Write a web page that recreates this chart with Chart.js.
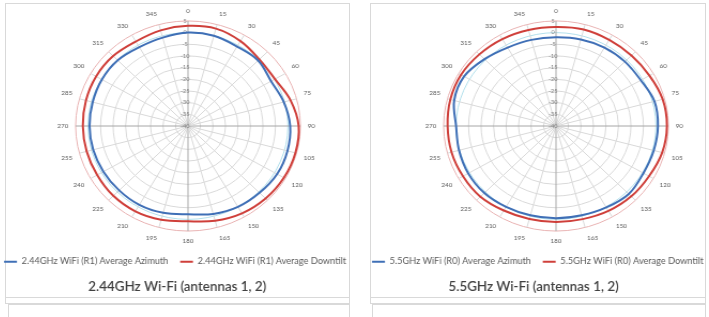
<!DOCTYPE html>
<html>
<head>
<meta charset="utf-8">
<script src="https://cdn.jsdelivr.net/npm/chart.js@4/dist/chart.umd.min.js"></script>
<style>
html,body{margin:0;padding:0;background:#fff;width:709px;height:317px;overflow:hidden;position:relative;font-family:Lato,"Open Sans",sans-serif;}
.box{position:absolute;border:1px solid #d9d9d9;box-sizing:border-box;}
.clip{position:absolute;overflow:hidden;}
canvas{position:absolute;top:0;}
</style>
</head>
<body>
<div class="box" style="left:5px;top:3px;width:345px;height:295px;"></div>
<div class="box" style="left:5px;top:297px;width:345px;height:7px;"></div>
<div class="box" style="left:8px;top:304px;width:342px;height:20px;"></div>
<div class="box" style="left:370px;top:3px;width:336px;height:295px;"></div>
<div class="box" style="left:370px;top:297px;width:336px;height:7px;"></div>
<div class="box" style="left:372px;top:304px;width:334px;height:20px;"></div>

<div class="clip" style="left:0;top:0;width:356px;height:300px;"><canvas id="c1" width="376" height="300" style="left:0;transform:scaleX(1.07);transform-origin:188px 128px;"></canvas></div>
<div class="clip" style="left:356px;top:0;width:353px;height:300px;"><canvas id="c2" width="372" height="300" style="left:14px;transform:scaleX(1.07);transform-origin:186px 128px;"></canvas></div>

<script>
// angle categories (degrees)
const angles = ['0','15','30','45','60','75','90','105','120','135','150','165','180','195','210','225','240','255','270','285','300','315','330','345'];
// radial tick values (dB)
const tickValues = [-40,-35,-30,-25,-20,-15,-10,-5,0,5];

// 2.44 GHz
const az24 = [0.0,0.0,-0.7,-0.3,-1.6,-0.3,0.9,1.2,1.2,0.5,0.0,-1.0,-2.2,-1.5,-1.0,-1.0,-0.9,-0.7,-0.6,-0.5,-0.2,-0.2,-1.0,-0.8];
const dt24 = [2.9,3.2,2.0,0.4,0.2,2.5,4.3,4.5,4.3,3.9,3.2,2.0,0.8,1.6,2.2,2.3,2.0,2.0,2.1,2.3,2.5,2.4,1.8,2.4];
// 5.5 GHz
const az55 = [-2.0,-1.6,-1.2,-1.0,-0.8,0.8,0.8,0.5,0.4,1.2,0.3,-0.4,-0.5,-0.4,0.0,0.6,0.6,0.2,0.0,2.2,2.5,0.5,-1.2,-1.8];
const dt55 = [2.4,2.8,2.6,2.7,3.2,4.2,4.4,4.0,3.0,2.6,2.0,1.3,1.1,1.2,1.8,2.8,3.0,3.3,3.4,3.8,3.9,3.4,3.0,2.6];

const seriesNames24 = ['2.44GHz WiFi (R1) Average Azimuth','2.44GHz WiFi (R1) Average Downtilt'];
const seriesNames55 = ['5.5GHz WiFi (R0) Average Azimuth','5.5GHz WiFi (R0) Average Downtilt'];
const titles = ['2.44GHz Wi-Fi (antennas 1, 2)','5.5GHz Wi-Fi (antennas 1, 2)'];

const BLUE = '#3f6fb6';
const RED = '#cf3f3a';

// shifts the legend / title boxes sideways (they are centred on the panel, not on the plot)
const shiftBoxes = {
  id: 'shiftBoxes',
  afterLayout(chart, args, opts) {
    if (chart.legend) { chart.legend.left += opts.legend; chart.legend.right += opts.legend; }
    if (chart.titleBlock) { chart.titleBlock.left += opts.title; chart.titleBlock.right += opts.title; }
  }
};

function makeChart(id, names, az, dt, title, shift) {
  return new Chart(document.getElementById(id), {
    type: 'radar',
    plugins: [shiftBoxes],
    data: {
      labels: angles,
      datasets: [
        {label: names[0], data: az, borderColor: BLUE, backgroundColor: BLUE, borderWidth: 2, fill: false, pointRadius: 0, tension: 0.35},
        {label: names[1], data: dt, borderColor: RED, backgroundColor: RED, borderWidth: 2, fill: false, pointRadius: 0, tension: 0.35}
      ]
    },
    options: {
      responsive: false,
      animation: false,
      layout: {padding: {top: 7, left: 0, right: 0, bottom: 0}},
      plugins: {
        shiftBoxes: shift,
        legend: {
          position: 'bottom',
          labels: {usePointStyle: true, pointStyle: 'line', pointStyleWidth: 12, boxHeight: 8, padding: 11,
                   color: '#595959', font: {family: 'Lato', size: 8.6}}
        },
        title: {
          display: true, text: title, position: 'bottom', color: '#404040',
          font: {family: 'Lato', size: 12.5, weight: '600'}, padding: {top: 3, bottom: 6}
        },
        tooltip: {enabled: false}
      },
      scales: {
        r: {
          min: tickValues[0], max: tickValues[tickValues.length - 1],
          afterBuildTicks: (s) => { s.ticks = tickValues.map(v => ({value: v})); },
          startAngle: 0,
          grid: {
            circular: true,
            color: (c) => c.tick && c.tick.value === 0 ? '#b3e0ec' : (c.tick && c.tick.value === 5 ? '#e9b3b3' : '#d9d9d9'),
            lineWidth: 1
          },
          angleLines: {
            color: (c) => (c.index % 6 === 0) ? '#a6a6a6' : '#d9d9d9',
            lineWidth: 1
          },
          ticks: {
            showLabelBackdrop: false, backdropPadding: 0, color: '#7f7f7f', font: {family: 'Lato', size: 5.5},
            callback: (v) => v + '    '
          },
          pointLabels: {color: '#595959', font: {family: 'Lato', size: 6}, padding: 4}
        }
      }
    }
  });
}
makeChart('c1', seriesNames24, az24, dt24, titles[0], {legend: -12, title: -10});
makeChart('c2', seriesNames55, az55, dt55, titles[1], {legend: -17, title: -21});
</script>
</body>
</html>
